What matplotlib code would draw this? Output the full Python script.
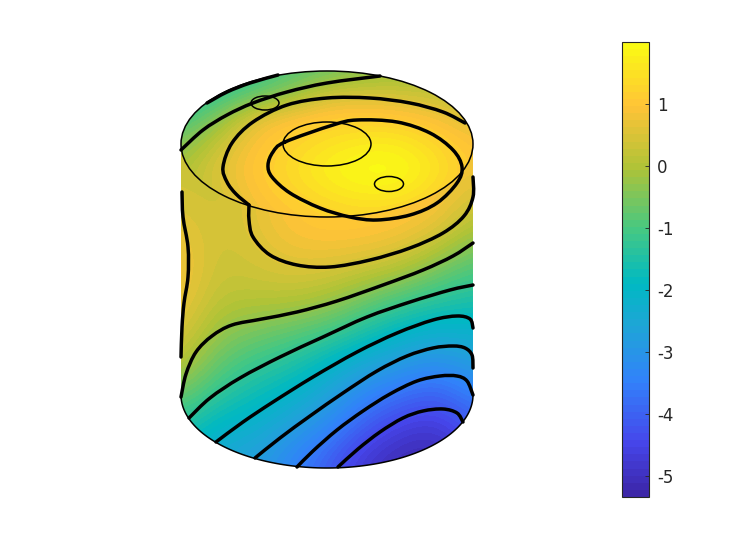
import numpy as np
import matplotlib
matplotlib.use("Agg")
import matplotlib.pyplot as plt
from matplotlib.cm import ScalarMappable
from matplotlib.colors import LinearSegmentedColormap, Normalize
from matplotlib.patches import Ellipse, PathPatch
from matplotlib.path import Path

# values, positions are picture pixels
cols = [181, 218, 254, 291, 327, 363, 400, 436, 473]

top_rows = [71, 95, 119, 143, 167, 191, 217]
top_vals = [
    [-1.8, -1.6, -1.3, -0.9, -0.7, -0.4, -0.3, -0.2, -0.1],
    [-1.6, -1.2, -0.7, -0.3, 0.4, 0.45, 0.4, 0.25, 0.0],
    [-1.1, -0.4, 0.6, 1.0, 1.15, 1.2, 1.1, 0.9, 0.5],
    [-0.5, 0.25, 0.95, 1.25, 1.5, 1.7, 1.7, 1.3, 0.9],
    [-0.1, 0.55, 1.05, 1.4, 1.8, 2.0, 2.0, 1.55, 1.0],
    [0.1, 0.4, 0.95, 1.25, 1.55, 1.75, 1.7, 1.3, 0.85],
    [0.2, 0.3, 0.75, 1.0, 1.15, 1.25, 1.15, 0.9, 0.6],
]

side_rows = [140, 180, 220, 260, 300, 340, 380, 420, 460]
side_vals = [
    [0.3, 0.3, 0.6, 1.0, 1.15, 1.15, 1.05, 0.95, 0.9],
    [0.35, 0.3, 0.6, 1.0, 1.15, 1.15, 1.05, 0.95, 0.7],
    [0.6, 0.35, 0.6, 1.0, 1.15, 1.15, 1.05, 0.85, 0.1],
    [0.9, 0.3, 0.45, 0.65, 0.65, 0.55, 0.35, -0.25, -0.8],
    [0.8, 0.15, 0.1, 0.1, -0.1, -0.6, -1.05, -1.35, -1.55],
    [0.5, -0.4, -0.7, -1.0, -1.3, -1.75, -2.2, -2.5, -2.3],
    [-0.2, -1.0, -1.5, -1.75, -2.35, -3.0, -3.35, -3.7, -3.1],
    [-1.3, -1.9, -2.1, -2.6, -3.1, -3.95, -4.5, -4.7, -4.0],
    [-2.0, -2.6, -2.8, -3.4, -4.1, -4.85, -5.2, -5.3, -4.6],
]

line_a = [(338, 467), (358, 449), (380, 432), (403, 418), (423, 411), (443, 409), (457, 413), (463, 422)]
line_b = [(297, 467), (313, 451), (337, 430), (363, 411), (390, 394), (417, 381), (440, 376), (457, 376), (467, 381), (473, 395)]
line_c = [(255, 458), (280, 438), (310, 416), (343, 393), (377, 371), (407, 356), (433, 348), (453, 346), (465, 348), (472, 355), (473, 368)]
line_d = [(216, 442), (243, 422), (273, 402), (313, 377), (357, 352), (397, 333), (433, 320), (457, 316), (470, 319), (473, 328)]
line_e = [(189, 418), (210, 398), (240, 378), (280, 357), (323, 337), (367, 317), (410, 302), (450, 290), (473, 285)]
line_f = [(181, 397), (186, 374), (196, 352), (212, 336), (232, 325), (262, 319), (297, 312), (337, 301), (383, 285), (423, 270), (453, 256), (473, 243)]
line_g = [(182, 192), (183, 217), (188, 247), (188, 277), (184, 303), (182, 327), (181, 357)]
line_h = [(473, 177), (473, 197), (464, 216), (443, 233), (410, 248), (370, 260), (330, 267), (297, 265), (270, 255), (253, 237), (249, 220), (249, 205)]
line_outer = [(249, 205), (236, 194), (227, 182), (223, 167), (232, 143), (253, 122), (287, 105), (327, 98), (370, 98), (410, 103), (443, 112), (465, 123)]
line_inner = [(285, 142), (333, 125), (357, 120), (397, 122), (430, 133), (453, 150), (462, 167), (457, 183), (437, 203), (410, 215), (377, 220), (350, 217), (320, 208), (290, 193), (272, 177), (268, 165), (273, 152), (285, 142)]
line_p = [(181, 150), (203, 130), (227, 115), (253, 103), (287, 92), (327, 83), (380, 76)]
line_q = [(207, 103), (227, 92), (250, 83), (278, 75)]
thick_lines = [line_a, line_b, line_c, line_d, line_e, line_f, line_g, line_h, line_outer, line_inner, line_p, line_q]

thin_circles = [(265, 103, 14, 7), (389, 184, 14.5, 7.5), (327, 144, 44, 22)]

bar_ticks = [-5, -4, -3, -2, -1, 0, 1]
bar_labels = ["-5", "-4", "-3", "-2", "-1", "0", "1"]
vmin, vmax = -5.34, 2.0

# colours seen on the colorbar, by value
bar_values = [-5.34, -4.5, -3.5, -2.6, -1.9, -1.0, 0.0, 1.0, 2.0]
bar_colors = ["#3c26a8", "#4646eb", "#3282fa", "#1ea5d7", "#00b9c3", "#46c882", "#afc337", "#ffc337", "#fafa14"]

norm = Normalize(vmin, vmax)
parula = LinearSegmentedColormap.from_list(
    "parula", [(norm(v), c) for v, c in zip(bar_values, bar_colors)], N=64)


def smooth(points):
    # catmull-rom through the read points, as bezier path
    p = np.array(points, float)
    closed = np.allclose(p[0], p[-1])
    if closed:
        prev = np.vstack([p[-2], p[:-1]])
        nxt = np.vstack([p[1:], p[1]])
    else:
        prev = np.vstack([p[0], p[:-1]])
        nxt = np.vstack([p[1:], p[-1]])
    tan = (nxt - prev) / 6
    verts = [p[0]]
    codes = [Path.MOVETO]
    for i in range(len(p) - 1):
        verts += [p[i] + tan[i], p[i + 1] - tan[i + 1], p[i + 1]]
        codes += [Path.CURVE4] * 3
    return Path(verts, codes)


def field(ax, rows, vals, clip):
    dx = (cols[-1] - cols[0]) / (len(cols) - 1) / 2
    dy = (rows[-1] - rows[0]) / (len(rows) - 1) / 2
    im = ax.imshow(vals, cmap=parula, norm=norm, interpolation="bicubic",
                   interpolation_stage="data", aspect="auto", origin="upper",
                   extent=(cols[0] - dx, cols[-1] + dx, rows[-1] + dy, rows[0] - dy))
    im.set_clip_path(clip)


fig = plt.figure(figsize=(7.46, 5.6), dpi=100)
ax = fig.add_axes([0, 0, 1, 1])

t = np.linspace(0, np.pi, 120)
rim_x = 327 + 146 * np.cos(t)
rim_y = 395 + 73 * np.sin(t)
side_path = Path(np.column_stack([np.r_[181, 473, rim_x], np.r_[144, 144, rim_y]]))
side_clip = PathPatch(side_path, transform=ax.transData, fc="none", ec="none")
ax.add_patch(side_clip)
field(ax, side_rows, side_vals, side_clip)

top_clip = Ellipse((327, 144), 292, 146, transform=ax.transData, fc="none", ec="none")
ax.add_patch(top_clip)
field(ax, top_rows, top_vals, top_clip)

for pts in thick_lines:
    ax.add_patch(PathPatch(smooth(pts), fc="none", ec="black", lw=2.5, capstyle="round"))
for cx, cy, a, b in thin_circles:
    ax.add_patch(Ellipse((cx, cy), 2 * a, 2 * b, fc="none", ec="black", lw=1.1))
ax.add_patch(Ellipse((327, 144), 292, 146, fc="none", ec="black", lw=1.1))
ax.plot(rim_x, rim_y, color="black", lw=1.1)

ax.set_xlim(0, 746)
ax.set_ylim(560, 0)
ax.axis("off")

cax = fig.add_axes([622 / 746, 1 - 497 / 560, 27 / 746, 455 / 560])
cb = fig.colorbar(ScalarMappable(norm=norm, cmap=parula), cax=cax)
cb.set_ticks(bar_ticks, labels=bar_labels)
cb.ax.tick_params(direction="in", length=3, width=0.6, color="#262626", labelcolor="#262626", labelsize=12, pad=6)
cb.outline.set_edgecolor("#262626")
cb.outline.set_linewidth(0.8)

fig.savefig("out.png", dpi=100)
